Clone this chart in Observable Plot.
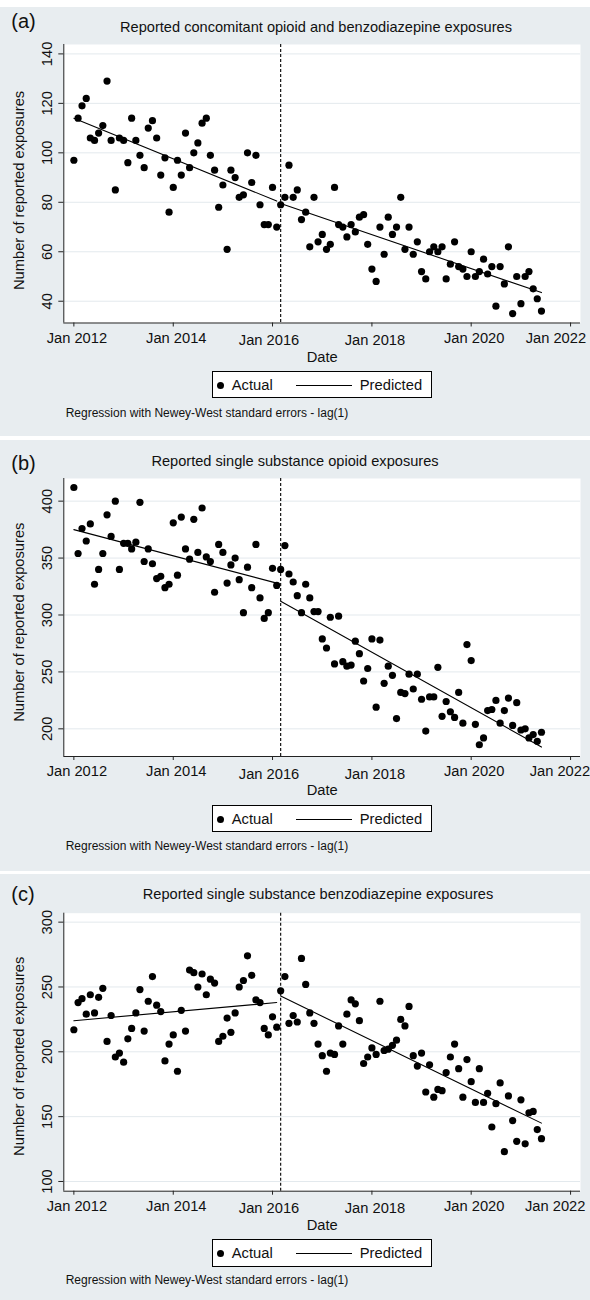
<!DOCTYPE html>
<html>
<head>
<meta charset="utf-8">
<script src="https://cdn.jsdelivr.net/npm/d3@7"></script>
<script src="https://cdn.jsdelivr.net/npm/@observablehq/plot@0.6"></script>
<style>
  html, body { margin: 0; padding: 0; background: #ffffff; }
  #page { position: relative; width: 590px; height: 1300px; overflow: hidden;
          font-family: "Liberation Sans", Arial, Helvetica, sans-serif; color: #111; }
  .bg { position: absolute; left: 0; width: 590px; background: #e8edf0; }
  .abs { position: absolute; white-space: nowrap; }
  .plotwrap { position: absolute; left: 0; width: 590px; }
  .legend { position: absolute; box-sizing: border-box; background: #fff; border: 1px solid #000; }
</style>
</head>
<body>
<div id="page"></div>
<script>
// ---------------- DATA ----------------
const firstMonth = "2012-01-01";           // first monthly observation
const interventionMonth = "2016-03-01";    // dashed vertical line
const preSegment = ["2012-01-01", "2016-02-01"];   // predicted pre-period months
const postSegment = ["2016-03-01", "2021-06-01"];  // predicted post-period months

const xTickDates = ["2012-01-01", "2014-01-01", "2016-01-01", "2018-01-01", "2020-01-01", "2022-01-01"];
const xTickLabels = ["Jan 2012", "Jan 2014", "Jan 2016", "Jan 2018", "Jan 2020", "Jan 2022"];

const panelLabels = ["(a)", "(b)", "(c)"];
const panelTitles = [
  "Reported concomitant opioid and benzodiazepine exposures",
  "Reported single substance opioid exposures",
  "Reported single substance benzodiazepine exposures"
];
const yAxisLabel = "Number of reported exposures";
const xAxisLabel = "Date";
const legendActual = "Actual";
const legendPredicted = "Predicted";
const captionText = "Regression with Newey-West standard errors - lag(1)";

// (a) concomitant opioid + benzodiazepine, monthly Jan 2012 - Jun 2021
const concomitantActual = [
  97,114,119,122,106,105,108,111,129,105,
  85,106,105,96,114,105,99,94,110,113,
  106,91,98,76,86,97,91,108,94,100,
  104,112,114,99,93,78,87,61,93,90,
  82,83,100,88,99,79,71,71,86,70,
  79,82,95,82,85,73,76,62,82,64,
  67,61,63,86,71,70,66,71,68,74,
  75,63,53,48,70,59,74,67,70,82,
  61,70,59,64,52,49,60,62,60,62,
  49,55,64,54,53,50,60,50,52,57,
  51,54,38,54,47,62,35,50,39,50,
  52,45,41,36
];
const concomitantPredPre = [114, 80.5];
const concomitantPredPost = [79.5, 43.5];
const concomitantYTicks = [40, 60, 80, 100, 120, 140];

// (b) single substance opioid
const opioidActual = [
  412,354,376,365,380,327,340,354,388,369,
  400,340,363,363,358,364,399,347,358,345,
  332,334,324,327,381,335,386,358,349,384,
  355,394,351,347,320,362,355,328,344,350,
  331,302,342,324,362,315,297,302,341,326,
  340,361,336,329,317,302,327,315,303,303,
  279,271,298,257,299,259,255,256,277,266,
  242,253,279,219,278,240,255,247,209,232,
  231,248,235,248,226,198,228,228,254,211,
  224,215,210,232,205,274,260,204,186,192,
  216,217,225,205,216,227,203,223,199,200,
  192,195,189,197
];
const opioidPredPre = [375, 328];
const opioidPredPost = [312, 184];
const opioidYTicks = [200, 250, 300, 350, 400];

// (c) single substance benzodiazepine
const benzoActual = [
  217,238,241,229,244,230,242,249,208,228,
  196,199,192,210,218,230,248,216,239,258,
  236,231,193,206,213,185,232,216,263,261,
  250,260,244,256,253,208,212,226,215,230,
  250,255,274,259,240,238,218,213,227,219,
  247,258,222,228,223,272,252,230,222,206,
  197,185,199,198,220,206,229,240,237,224,
  191,196,203,198,239,201,202,205,209,225,
  220,235,197,189,199,169,190,165,171,170,
  184,196,206,187,165,194,177,161,187,161,
  168,142,160,176,123,166,147,131,163,129,
  153,154,140,133
];
const benzoPredPre = [224, 238];
const benzoPredPost = [243, 145];
const benzoYTicks = [100, 150, 200, 250, 300];

// ---------------- LAYOUT / STYLE ----------------
const FONT = '"Liberation Sans", Arial, Helvetica, sans-serif';
const TEXT = "#111";
const AXIS = "#222";
const GRID = "#e3e9ed";
const FS = 14.7;
const xDomain = [new Date("2011-10-19"), new Date("2022-03-15")];
const xLabelDx = [3, 3, -3.5, 3, 3, -14.7];
const xLabelDy = [15.2, 15.2, 17.3, 17.3, 15.2, 15.2];

const layouts = [
  {top: 7,   bottom: 435.7, frameTop: 44,    frameBottom: 322.5, yDomain: [31.2, 143.8],
   labelTop: 11, titleTop: 19.6, titleCenterX: 316, legendTop: 371, captionTop: 406.7, ylabDy: 6.7, x2022dx: -14.7},
  {top: 440, bottom: 871,   frameTop: 478,   frameBottom: 756,   yDomain: [175.7, 419.9],
   labelTop: 452.7, titleTop: 454.1, titleCenterX: 295, legendTop: 805, captionTop: 840.1, ylabDy: 4.7, x2022dx: -10.7},
  {top: 874, bottom: 1300,  frameTop: 912.7, frameBottom: 1190.7, yDomain: [92.5, 306.9],
   labelTop: 884.4, titleTop: 887.4, titleCenterX: 318, legendTop: 1239.3, captionTop: 1274.4, ylabDy: 4.1, x2022dx: -15.4}
];

const panels = [
  {actual: concomitantActual, pre: concomitantPredPre, post: concomitantPredPost, yTicks: concomitantYTicks},
  {actual: opioidActual, pre: opioidPredPre, post: opioidPredPost, yTicks: opioidYTicks},
  {actual: benzoActual, pre: benzoPredPre, post: benzoPredPost, yTicks: benzoYTicks}
];

const page = document.getElementById("page");
const start = new Date(firstMonth);
const xTicks = xTickDates.map((d, i) => ({date: new Date(d), label: xTickLabels[i]}));

function el(cls, styles, text) {
  const e = document.createElement("div");
  e.className = cls;
  Object.assign(e.style, styles);
  if (text != null) e.textContent = text;
  return e;
}

panels.forEach((p, k) => {
  const L = layouts[k];
  const actual = p.actual.map((v, i) => ({date: d3.utcMonth.offset(start, i), value: v}));
  const pre = [{date: new Date(preSegment[0]), value: p.pre[0]}, {date: new Date(preSegment[1]), value: p.pre[1]}];
  const post = [{date: new Date(postSegment[0]), value: p.post[0]}, {date: new Date(postSegment[1]), value: p.post[1]}];

  page.appendChild(el("bg", {top: L.top + "px", height: (L.bottom - L.top) + "px"}));

  const dxs = xLabelDx.slice(); dxs[5] = L.x2022dx;
  const labelMarks = xTicks.map((t, i) =>
    Plot.text([t], {x: "date", text: "label", frameAnchor: "bottom", dx: dxs[i], dy: xLabelDy[i],
                    lineAnchor: "middle", textAnchor: "middle", fontSize: FS, fill: TEXT}));

  const chart = Plot.plot({
    width: 590,
    height: L.bottom - L.top,
    marginLeft: 63.3, marginRight: 10,
    marginTop: L.frameTop - L.top,
    marginBottom: L.bottom - L.frameBottom,
    style: {background: "transparent", fontFamily: FONT, fontSize: FS + "px", color: TEXT, overflow: "visible"},
    x: {type: "utc", domain: xDomain, axis: null},
    y: {type: "linear", domain: L.yDomain, axis: null},
    marks: [
      Plot.frame({fill: "white", stroke: "none"}),
      Plot.gridY(p.yTicks, {stroke: GRID, strokeOpacity: 1, strokeWidth: 1}),
      Plot.ruleX([new Date(interventionMonth)], {stroke: "#000", strokeWidth: 1.1, strokeDasharray: "3,2"}),
      Plot.dot(actual, {x: "date", y: "value", r: 3.6, fill: "#000", stroke: "none"}),
      Plot.line(pre, {x: "date", y: "value", stroke: "#000", strokeWidth: 1.1}),
      Plot.line(post, {x: "date", y: "value", stroke: "#000", strokeWidth: 1.1}),
      Plot.ruleX([xDomain[0]], {stroke: AXIS, strokeWidth: 1}),
      Plot.ruleY([L.yDomain[0]], {stroke: AXIS, strokeWidth: 1}),
      Plot.axisY(p.yTicks, {tickSize: 5, tickFormat: () => "", label: null, stroke: AXIS}),
      Plot.axisX(xTicks.map(t => t.date), {tickSize: 4, tickFormat: () => "", label: null, stroke: AXIS}),
      Plot.text(p.yTicks, {y: d => d, text: d => String(d), frameAnchor: "left", dx: -12.1, rotate: -90,
                           lineAnchor: "bottom", textAnchor: "middle", fontSize: FS, fill: TEXT}),
      ...labelMarks,
      Plot.text([xAxisLabel], {text: d => d, frameAnchor: "bottom", dy: 33.8, lineAnchor: "middle",
                               textAnchor: "middle", fontSize: FS, fill: TEXT}),
      Plot.text([yAxisLabel], {text: d => d, frameAnchor: "left", dx: -40, dy: L.ylabDy, rotate: -90,
                               lineAnchor: "bottom", textAnchor: "middle", fontSize: FS, fill: TEXT})
    ]
  });
  const wrap = el("plotwrap", {top: L.top + "px", height: (L.bottom - L.top) + "px"});
  wrap.appendChild(chart);
  page.appendChild(wrap);

  // panel letter
  page.appendChild(el("abs", {left: "11.3px", top: L.labelTop + "px", fontSize: "20px", lineHeight: "20px"}, panelLabels[k]));
  // title
  page.appendChild(el("abs", {left: (L.titleCenterX - 250) + "px", width: "500px", textAlign: "center",
                              top: L.titleTop + "px", fontSize: "14.6px", lineHeight: "14.6px"}, panelTitles[k]));
  // legend
  const lg = el("legend", {left: "211.7px", top: L.legendTop + "px", width: "220.6px", height: "27.3px"});
  lg.appendChild(el("abs", {left: "4.8px", top: "9.5px", width: "7px", height: "7px", borderRadius: "50%", background: "#000"}));
  lg.appendChild(el("abs", {left: "19px", top: "6.1px", fontSize: "14.75px", lineHeight: "14.75px"}, legendActual));
  lg.appendChild(el("abs", {left: "83.3px", top: "12.5px", width: "55.7px", height: "1px", background: "#000"}));
  lg.appendChild(el("abs", {left: "147.1px", top: "6.1px", fontSize: "14.75px", lineHeight: "14.75px"}, legendPredicted));
  page.appendChild(lg);
  // caption
  page.appendChild(el("abs", {left: "65.7px", top: L.captionTop + "px", fontSize: "12px", lineHeight: "12px"}, captionText));
});
</script>
</body>
</html>
